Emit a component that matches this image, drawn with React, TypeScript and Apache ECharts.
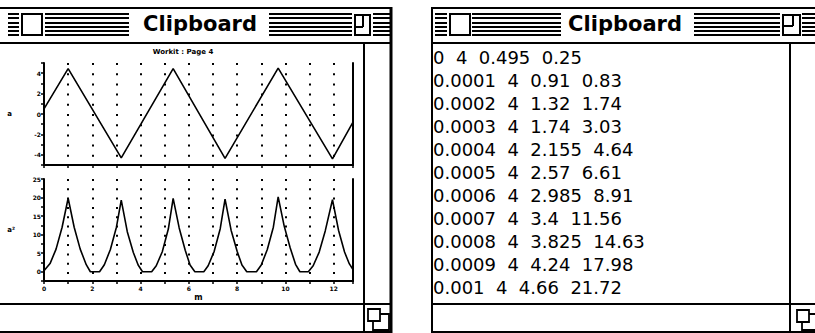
import React, { useEffect, useRef } from "react";
import * as echarts from "echarts";

// ---- chart data (time in ms) ----
const triTime = [0, 1.0, 3.2, 5.35, 7.5, 9.7, 11.95, 12.8];
const triValue = [0.5, 4.45, -4.3, 4.45, -4.35, 4.5, -4.4, -0.8];

const sqTime = [
  0, 0.25, 0.5, 0.75, 1.0, 1.25, 1.5, 1.75, 1.92, 2.3, 2.5, 2.75, 3.0, 3.2, 3.45,
  3.7, 3.9, 4.08, 4.46, 4.65, 4.9, 5.15, 5.35, 5.6, 5.85, 6.05, 6.25, 6.62, 6.8, 7.05,
  7.3, 7.5, 7.75, 8.0, 8.2, 8.4, 8.8, 9.0, 9.25, 9.5, 9.7, 9.95, 10.2, 10.42, 10.6,
  10.95, 11.15, 11.4, 11.65, 11.95, 12.2, 12.45, 12.65, 12.8,
];
const sqValue = [
  0.25, 2.2, 6.1, 12.0, 19.8, 12.0, 6.1, 1.9, 0, 0, 1.9, 6.0, 12.0, 19.3, 10.8,
  5.2, 1.8, 0, 0, 1.6, 5.4, 11.5, 19.8, 11.8, 5.8, 1.8, 0, 0, 1.6, 5.5,
  11.6, 19.6, 11.2, 5.5, 1.8, 0, 0, 1.8, 6.0, 12.0, 20.2, 12.3, 6.4, 2.0, 0,
  0, 1.6, 5.3, 11.0, 19.4, 11.2, 5.3, 2.1, 0.6,
];

// ---- clipboard table ----
const tableTime = [0, 0.0001, 0.0002, 0.0003, 0.0004, 0.0005, 0.0006, 0.0007, 0.0008, 0.0009, 0.001];
const tableCol2 = [4, 4, 4, 4, 4, 4, 4, 4, 4, 4, 4];
const tableCol3 = [0.495, 0.91, 1.32, 1.74, 2.155, 2.57, 2.985, 3.4, 3.825, 4.24, 4.66];
const tableCol4 = [0.25, 0.83, 1.74, 3.03, 4.64, 6.61, 8.91, 11.56, 14.63, 17.98, 21.72];

const windowTitle = "Clipboard";
const pageTitle = "Workit : Page 4";
const xName = "m";
const yNameTop = "a";
const yNameBottom = "a²";

const BLACK = "#000";
const FONT = '"DejaVu Sans", Verdana, sans-serif';

function hline(x1: number, x2: number, y: number, w = 2, z = 5) {
  return { type: "line", z, silent: true, shape: { x1, y1: y, x2, y2: y }, style: { stroke: BLACK, lineWidth: w } };
}
function vline(x: number, y1: number, y2: number, w = 2, z = 5) {
  return { type: "line", z, silent: true, shape: { x1: x, y1, x2: x, y2 }, style: { stroke: BLACK, lineWidth: w } };
}
function box(x: number, y: number, width: number, height: number, z = 6, lw = 2) {
  return { type: "rect", z, silent: true, shape: { x, y, width, height }, style: { fill: "#fff", stroke: BLACK, lineWidth: lw } };
}
function white(x: number, y: number, width: number, height: number, z = 4) {
  return { type: "rect", z, silent: true, shape: { x, y, width, height }, style: { fill: "#fff" } };
}

function buildGraphics() {
  const els: any[] = [];
  const stripeY = [14, 18, 23, 27, 31, 35];
  // left window
  stripeY.forEach((y) => els.push(hline(8, 390, y, 2, 3)));
  els.push(white(19, 11, 26, 28), white(129, 11, 140, 28), white(352, 11, 21, 28));
  els.push(box(22, 14, 20, 21));
  els.push(box(355, 15, 15, 20), vline(363, 15, 27, 2, 7), hline(355, 363, 27, 2, 7));
  els.push({
    type: "text", z: 8, x: 200, y: 24,
    style: { text: windowTitle, font: `bold 21px ${FONT}`, fill: BLACK, textAlign: "center", textVerticalAlign: "middle" },
  });
  els.push(hline(0, 392, 8), hline(0, 392, 43), vline(391, 7, 333, 3), vline(364, 43, 333));
  els.push(hline(0, 392, 304), hline(0, 392, 332));
  els.push(box(373, 314, 16, 16, 6, 1.8), box(368, 309, 12, 12, 7, 1.8));
  els.push({
    type: "text", z: 8, x: 183, y: 52,
    style: { text: pageTitle, font: `bold 7px ${FONT}`, fill: BLACK, textAlign: "center", textVerticalAlign: "middle" },
  });

  // right window
  stripeY.forEach((y) => els.push(hline(435, 815, y, 2, 3)));
  els.push(white(447, 11, 25, 28), white(561, 11, 133, 28), white(780, 11, 22, 28));
  els.push(box(450, 14, 20, 21));
  els.push(box(783, 15, 17, 20), vline(793, 15, 26, 2, 7), hline(783, 793, 26, 2, 7));
  els.push({
    type: "text", z: 8, x: 625, y: 24,
    style: { text: windowTitle, font: `bold 21px ${FONT}`, fill: BLACK, textAlign: "center", textVerticalAlign: "middle" },
  });
  els.push(hline(431, 815, 8), hline(432, 815, 43), vline(432, 7, 333), vline(790, 43, 333));
  els.push(hline(432, 815, 304), hline(432, 815, 332));
  els.push(box(802, 314, 16, 16, 6, 1.8), box(797, 310, 12, 12, 7, 1.8));

  tableTime.forEach((t, i) => {
    const line = [t, tableCol2[i], tableCol3[i], tableCol4[i]].map((v) => String(v)).join("  ");
    els.push({
      type: "text", z: 8, x: 433, y: 57 + 23 * i,
      style: { text: line, font: `18px ${FONT}`, fill: BLACK, textAlign: "left", textVerticalAlign: "middle" },
    });
  });
  return els;
}

function xAxisCfg(gridIndex: number, showLabels: boolean, dash: number[]) {
  return {
    type: "value",
    gridIndex,
    min: 0,
    max: 12.8,
    interval: 1,
    name: showLabels ? xName : "",
    nameLocation: "middle",
    nameGap: 12,
    nameTextStyle: { fontSize: 8, fontWeight: "bold", color: BLACK, fontFamily: FONT },
    axisLine: { show: true, onZero: false, lineStyle: { color: BLACK, width: 2 } },
    axisTick: { show: true, length: 3, lineStyle: { color: BLACK, width: 1.5 } },
    axisLabel: {
      show: showLabels,
      formatter: (v: number) => (v % 2 === 0 ? String(v) : ""),
      fontSize: 6,
      fontWeight: "bold",
      color: BLACK,
      margin: 4,
      fontFamily: FONT,
    },
    splitLine: { show: true, lineStyle: { color: BLACK, width: 2, type: dash } },
  };
}

function yAxisCfg(gridIndex: number, min: number, max: number, interval: number, labelEvery: number, name: string, gap: number) {
  return {
    type: "value",
    gridIndex,
    min,
    max,
    interval,
    name,
    nameLocation: "middle",
    nameRotate: 0,
    nameGap: gap,
    nameTextStyle: { fontSize: 7, fontWeight: "bold", color: BLACK, fontFamily: FONT },
    axisLine: { show: true, onZero: false, lineStyle: { color: BLACK, width: 2 } },
    axisTick: { show: true, length: 3, lineStyle: { color: BLACK, width: 1.5 } },
    axisLabel: {
      formatter: (v: number) => (Math.abs(v % labelEvery) < 1e-9 ? String(v) : ""),
      fontSize: 6,
      fontWeight: "bold",
      color: BLACK,
      margin: 3,
      fontFamily: FONT,
    },
    splitLine: { show: false },
  };
}

function rightAxis(gridIndex: number) {
  return {
    type: "value",
    gridIndex,
    position: "right",
    min: 0,
    max: 1,
    axisLine: { show: true, onZero: false, lineStyle: { color: BLACK, width: 2 } },
    axisTick: { show: false },
    axisLabel: { show: false },
    splitLine: { show: false },
  };
}

export default function App() {
  const ref = useRef<HTMLDivElement>(null);
  useEffect(() => {
    if (!ref.current) return;
    const chart = echarts.init(ref.current, null, { renderer: "svg", width: 815, height: 333 });
    chart.setOption({
      animation: false,
      backgroundColor: "#fff",
      grid: [
        { left: 44, top: 63, width: 309, height: 102 },
        { left: 44, top: 179, width: 309, height: 102 },
      ],
      xAxis: [xAxisCfg(0, false, [2, 8.2]), xAxisCfg(1, true, [2, 7.3])],
      yAxis: [
        yAxisCfg(0, -5, 5, 1, 2, yNameTop, 32),
        rightAxis(0),
        yAxisCfg(1, -2.5, 25, 2.5, 5, yNameBottom, 29),
        rightAxis(1),
      ],
      series: [
        {
          type: "line",
          xAxisIndex: 0,
          yAxisIndex: 0,
          data: triTime.map((t, i) => [t, triValue[i]]),
          symbol: "none",
          lineStyle: { color: BLACK, width: 1.6 },
          z: 5,
        },
        {
          type: "line",
          xAxisIndex: 1,
          yAxisIndex: 2,
          data: sqTime.map((t, i) => [t, sqValue[i]]),
          symbol: "none",
          lineStyle: { color: BLACK, width: 1.6 },
          z: 5,
        },
      ],
      graphic: { elements: buildGraphics() },
    });
    return () => chart.dispose();
  }, []);
  return <div ref={ref} style={{ position: "absolute", left: 0, top: 0, width: 815, height: 333 }} />;
}
